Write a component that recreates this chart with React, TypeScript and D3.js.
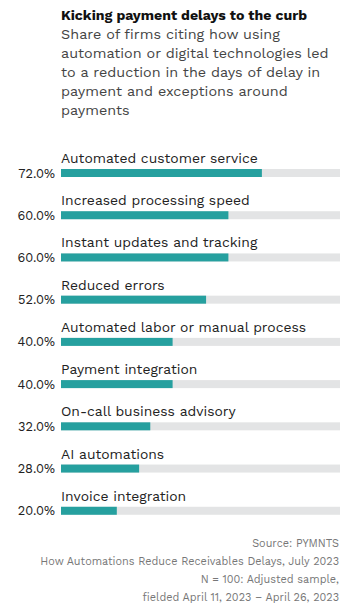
import React from "react";
import * as d3 from "d3";

const categories = [
  "Automated customer service",
  "Increased processing speed",
  "Instant updates and tracking",
  "Reduced errors",
  "Automated labor or manual process",
  "Payment integration",
  "On-call business advisory",
  "AI automations",
  "Invoice integration",
];
const values = [72, 60, 60, 52, 40, 40, 32, 28, 20];

const titleText = "Kicking payment delays to the curb";
const subtitleLines = [
  "Share of firms citing how using",
  "automation or digital technologies led",
  "to a reduction in the days of delay in",
  "payment and exceptions around",
  "payments",
];
const footerLines = [
  "Source: PYMNTS",
  "How Automations Reduce Receivables Delays, July 2023",
  "N = 100: Adjusted sample,",
  "fielded April 11, 2023 \u2013 April 26, 2023",
];

const W = 355;
const H = 608;
const FONT = "'Work Sans', 'Open Sans', 'Noto Sans', sans-serif";

export default function App() {
  const x = d3.scaleLinear().domain([0, 100]).range([61, 340]);
  const y = d3
    .scaleBand<string>()
    .domain(categories)
    .range([148, 528])
    .paddingInner(0)
    .paddingOuter(0);
  const barH = 8;
  const fmt = d3.format(".1f");

  return (
    <svg
      width={W}
      height={H}
      style={{ position: "absolute", left: 0, top: 0, background: "#fff" }}
      fontFamily={FONT}
    >
      <text x={61} y={20} fontSize={14.1} fontWeight={700} fill="#111">
        {titleText}
      </text>
      {subtitleLines.map((l, i) => (
        <text key={i} x={61} y={39 + i * 19} fontSize={14.4} fill="#444">
          {l}
        </text>
      ))}
      {categories.map((c, i) => {
        const band = y(c)!;
        const barY = band + 21;
        return (
          <g key={c}>
            <text x={61} y={band + 15} fontSize={13.9} fill="#222">
              {c}
            </text>
            <rect x={x(0)} y={barY} width={x(100) - x(0)} height={barH} fill="#e3e4e5" />
            <rect x={x(0)} y={barY} width={x(values[i]) - x(0)} height={barH} fill="#26a09f" />
            <text
              x={55}
              y={barY + barH / 2}
              dy="0.36em"
              textAnchor="end"
              fontSize={12.8}
              fill="#222"
            >
              {fmt(values[i])}%
            </text>
          </g>
        );
      })}
      {footerLines.map((l, i) => (
        <text key={i} x={339} y={547 + i * 17.9} textAnchor="end" fontSize={10.9} fill="#777">
          {l}
        </text>
      ))}
    </svg>
  );
}
